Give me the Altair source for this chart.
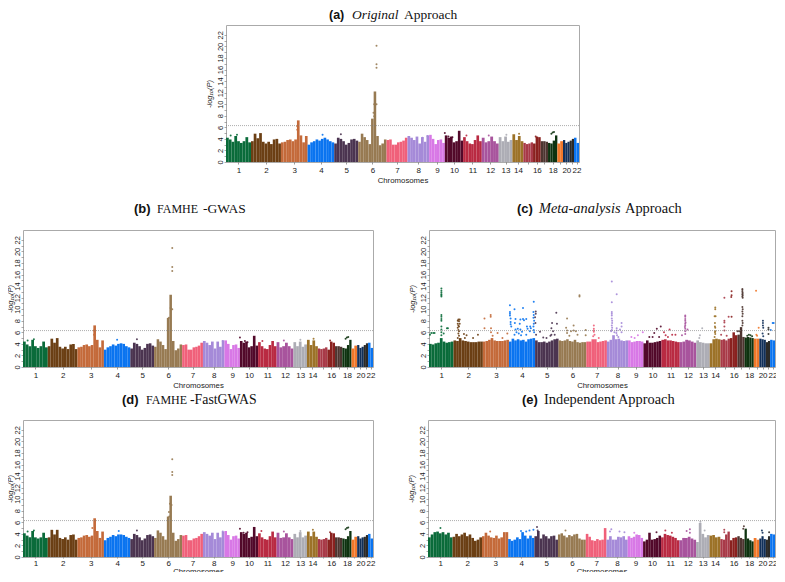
import altair as alt
import pandas as pd

chrom_sizes = [75,90,80,80,72,85,63,65,47,55,56,51,41,33,29,23,22,28,17,20,13,15]
chrom_colors = ["#0a6b3a","#6b3f14","#c46a3a","#0a74f0","#4b3450","#977a52","#f0607a","#a58ad8",
                "#d878e6","#52092a","#b92a42","#a8549d","#adadb5","#9c7228","#a83a48","#8a211f",
                "#4d3530","#0e3310","#f0782a","#12305a","#2b2a28","#0a74f0"]
threshold = 6.3

sky_a = [[4.2,3.9,3.5,4.5,3.6,3.3,3.6,4.3,3.4],[3.6,4.9,4.1,5.0,3.5,3.2,3.5,3.1,3.9,4.0,3.2],
 [3.4,3.5,3.8,3.9,3.6,3.9,7.2,4.6,3.4,4.5],[3.0,3.4,3.6,3.9,3.7,4.0,4.2,3.9,3.6,3.4],
 [3.2,4.2,4.0,3.6,3.0,3.3,3.9,4.0,3.7],[3.5,4.9,4.3,3.8,3.1,7.5,12.2,4.5,2.9,3.2,3.9],
 [3.8,3.9,3.0,3.0,3.4,3.5,3.7,4.2],[4.5,4.2,3.8,4.4,3.2,4.3,3.5,4.6],[4.7,4.0,3.1,3.8,3.9,3.3],
 [4.6,4.2,4.4,3.4,3.6,5.4,3.7],[4.3,3.6,3.2,3.1,3.8,4.6,3.6],[4.2,3.4,3.6,4.4,3.6,3.2],
 [4.3,3.6,4.4,3.5,3.8],[4.8,3.8,4.5,3.6],[3.3,3.1,3.2,3.4],[3.2,4.4,4.3],[3.6,3.6,3.5],
 [3.3,3.2,3.7,4.6],[3.2,3.6],[3.8,3.3,3.5],[3.7,4.0],[4.2,3.3]]
sky_b = [[4.4,3.9,3.6,4.7,3.6,3.3,3.6,4.4,3.4],[3.6,4.9,4.2,5.0,3.5,3.2,3.5,3.1,3.9,4.0,3.1],
 [3.4,3.5,3.8,3.9,3.6,3.8,7.2,4.7,3.4,4.6],[3.0,3.4,3.6,3.9,3.7,4.0,4.1,4.0,3.6,3.4],
 [3.2,4.2,4.0,3.6,3.0,3.3,4.0,4.1,3.7],[3.5,4.8,4.4,3.8,3.1,8.5,12.5,4.5,2.9,3.2,3.9],
 [3.8,3.9,3.0,3.0,3.4,3.5,3.7,4.2],[4.5,4.2,3.8,4.4,3.2,4.4,3.5,4.6],[4.6,4.0,3.1,3.8,3.9,3.3],
 [4.5,4.2,4.4,3.4,3.6,5.4,3.7],[4.3,3.6,3.2,3.1,3.8,4.5,3.6],[4.3,3.4,3.6,4.2,3.6,3.2],
 [4.3,3.6,4.4,3.5,3.9],[4.7,3.8,4.6,3.6],[3.2,3.1,3.2,3.4],[3.0,4.4,4.2],[3.6,3.6,3.5],
 [3.3,3.2,3.8,4.7],[3.2,3.7],[3.8,3.3,3.5],[3.8,4.1],[4.2,3.3]]
sky_c = [[4.0,3.9,4.1,4.2,5.0,4.4,4.2,4.3,4.4],[4.6,4.5,5.0,4.6,4.5,4.4,4.3,4.3,4.3,4.4,4.4],
 [4.4,4.5,4.7,5.0,4.6,4.5,4.5,4.5,4.6,4.7],[4.4,4.9,4.6,4.8,4.6,4.7,4.4,4.8,4.9,5.0],
 [4.6,4.3,4.3,4.4,4.2,4.4,4.6,4.8,4.9],[4.6,4.5,4.6,4.8,4.5,4.4,4.7,4.3,4.2,4.3,4.3],
 [4.4,4.4,4.8,4.8,4.3,4.4,4.5,4.6],[4.4,4.7,5.5,4.8,4.9,4.6,4.5,4.6],[4.6,4.3,4.4,4.5,4.5,4.4],
 [4.1,4.6,4.2,4.2,4.3,4.4,4.5],[4.7,4.8,4.6,4.6,4.5,4.4,4.3],[4.3,4.4,4.7,4.6,4.4,4.2],
 [4.6,4.3,4.2,4.1,4.1],[4.1,4.8,4.9,4.8],[4.7,4.8,4.6,4.9],[5.0,6.0,5.5],[5.6,6.9,5.2],
 [5.1,5.2,5.1,5.0],[4.9,4.9],[4.9,4.8,4.7],[4.3,4.5],[4.7,4.6]]
sky_d = [[4.1,3.7,3.4,4.5,3.4,3.2,3.4,4.2,3.3],[3.4,4.7,3.9,4.7,3.3,3.1,3.4,3.0,3.8,3.9,3.0],
 [3.3,3.4,3.7,3.8,3.5,3.7,6.7,4.5,3.3,4.4],[2.9,3.3,3.5,3.8,3.6,3.9,3.9,3.8,3.5,3.3],
 [3.1,4.0,3.8,3.4,2.9,3.2,3.8,3.9,3.6],[3.3,4.6,4.2,3.6,3.0,7.0,10.6,4.2,2.8,3.1,3.8],
 [3.7,3.8,2.9,2.9,3.2,3.3,3.6,4.0],[4.3,4.0,3.7,4.2,3.1,4.2,3.4,4.4],[4.5,3.8,3.0,3.6,3.7,3.2],
 [4.3,4.0,4.2,3.3,3.5,5.2,3.6],[4.1,3.4,3.1,3.0,3.6,4.4,3.4],[4.2,3.3,3.4,4.1,3.4,3.1],
 [4.0,3.4,4.3,3.4,3.7],[4.4,3.6,4.4,3.5],[3.1,3.0,3.1,3.3],[3.0,4.2,4.1],[3.4,3.4,3.3],
 [3.2,3.1,3.6,4.5],[3.0,3.5],[3.6,3.2,3.4],[3.5,3.8],[4.0,3.2]]
sky_e = [[3.4,3.9,4.3,4.4,4.1,4.3,3.9,4.2,3.4],[3.5,4.0,3.6,3.9,4.2,3.6,3.9,3.3,2.8,3.0,3.4],
 [3.6,4.2,3.7,3.4,3.3,3.7,3.2,3.4,4.3,4.3],[3.1,2.8,3.0,3.4,3.1,4.3,3.7,3.2,3.7,3.3],
 [3.6,4.5,3.2,3.9,3.6,3.2,3.6,3.7,3.0],[3.9,4.1,3.7,3.4,3.8,3.6,3.9,4.0,3.2,3.0,3.0],
 [4.0,3.5,2.9,2.8,3.1,2.9,3.0,5.0],[3.0,3.6,3.0,3.0,3.5,3.4,3.6,3.0],[3.6,3.3,3.5,3.9,3.8,3.3],
 [2.7,3.0,4.2,3.0,3.1,3.3,3.7],[3.4,4.0,3.8,3.7,3.5,3.3,2.9],[2.9,3.3,3.3,3.5,3.2,3.0],
 [2.6,5.9,4.0,3.4,3.8],[3.7,3.8,3.4,3.5],[3.1,3.0,3.9,4.4],[2.9,3.3,3.4],[3.6,3.3,3.1],
 [4.9,3.2,2.9,2.7],[3.3,3.0],[3.2,3.6,3.1],[3.0,3.6],[4.0,3.9]]

pts_a = [(452,20.1),(452,16.9),(452,16.3),(445,10.0),(452,10.0),(443,8.5),(445,7.9),(214,5.6),(214,6.2),
 (14,4.6),(33,4.7),(290,4.7),(345,4.8),(657,5.0),(668,4.4),(680,4.3),(722,4.6),(789,4.6),(842,4.7),(880,4.9),
 (985,5.2),(981,5.1),(977,4.9),(930,4.4),(605,4.5),(590,4.2)]
pts_b = [(452,20.6),(452,17.3),(452,16.6),(447,10.2),(452,10.0),(442,8.5),(215,5.6),(215,6.3),
 (14,4.6),(33,4.8),(285,4.7),(345,4.8),(657,5.1),(672,4.5),(680,4.3),(725,4.5),(790,4.6),(840,4.7),(880,4.9),
 (985,5.2),(981,5.1),(977,4.9),(930,4.6),(605,4.5)]
pts_c = [(38,13.6),(38,13.2),(38,12.9),(38,12.6),(38,12.4),(38,12.2),(38,9.0),(38,8.7),(38,8.3),(38,8.0),
 (38,7.0),(38,6.5),(38,6.0),(38,5.5),(3,5.6),(7,5.9),(13,5.9),(17,5.9),(55,6.7),(58,6.7),(45,5.8),
 (88,8.0),(90,8.2),(92,7.9),(94,8.2),(88,7.5),(90,7.2),(92,7.0),(94,7.5),(88,6.8),(90,6.4),(92,6.2),(90,5.8),(92,5.4),(88,5.0),
 (107,5.7),(115,5.5),(110,5.0),(150,5.6),(135,5.0),
 (170,8.4),(189,9.0),(189,8.7),(170,6.7),(190,6.7),(190,6.0),(210,5.9),(240,5.8),(195,5.4),(225,5.0),
 (248,10.7),(262,10.0),(288,10.2),(321,11.3),(248,9.5),(248,9.2),(248,8.9),(250,8.4),(250,7.8),(250,7.4),(252,7.0),
 (265,8.3),(263,7.6),(265,6.5),(268,6.0),(262,5.6),(272,6.6),(275,5.8),(280,8.2),(278,7.5),(280,6.5),(285,6.1),(282,5.5),
 (288,8.3),(291,8.1),(298,8.3),(300,7.0),(302,6.6),(298,5.6),(309,6.2),(310,7.0),(312,6.7),
 (320,9.5),(321,9.0),(320,8.5),(322,8.0),(321,7.5),(320,7.0),(321,6.4),(322,6.0),(327,9.6),(327,9.2),(325,8.6),(326,7.6),(328,5.6),
 (340,6.1),(375,5.6),(390,9.4),(377,7.6),(392,7.5),(375,6.7),(380,6.2),(372,5.4),(350,5.1),(360,5.0),(385,5.6),
 (423,8.4),(420,6.8),(423,6.3),(423,5.9),(443,7.2),(443,6.3),(435,6.2),(450,6.2),(461,12.2),(461,12.4),(480,6.4),(480,5.5),(430,5.4),(455,5.6),
 (505,7.2),(505,6.6),(505,6.3),(505,6.1),(507,5.6),(503,5.3),(520,5.0),
 (560,14.8),(575,12.6),(560,11.2),(560,9.5),(560,9.2),(560,8.9),(560,8.4),(561,8.0),(561,7.6),(560,7.2),(561,6.8),(560,6.4),(558,6.2),
 (590,7.6),(590,7.0),(575,6.7),(575,6.3),(574,5.9),(576,5.5),(585,6.5),(568,6.0),(590,6.0),(580,5.2),
 (655,6.0),(640,5.5),(620,5.2),(630,5.0),
 (698,6.6),(710,7.0),(675,5.2),(685,5.2),(690,5.9),(705,5.2),
 (720,6.0),(737,6.5),(725,5.5),(745,5.6),(755,5.6),(732,5.2),
 (785,8.9),(785,8.7),(785,8.3),(785,8.0),(786,7.7),(785,7.5),(785,7.2),(784,6.9),(785,6.6),(785,6.2),(785,5.7),(792,6.5),(775,5.5),
 (837,6.7),(830,5.5),(828,5.0),
 (877,10.3),(877,10.0),(875,8.8),(878,8.8),(876,7.6),(876,7.0),(877,6.8),(877,6.2),(876,6.0),(877,5.7),(875,5.2),(895,5.6),
 (905,12.0),(905,8.0),(905,7.7),(905,7.0),(905,6.3),(918,8.7),(912,5.4),
 (927,13.1),(927,12.4),(926,12.1),(927,8.7),(945,6.2),
 (960,13.5),(960,13.3),(960,13.0),(961,12.8),(960,12.6),(961,12.4),(960,12.2),(961,12.0),(960,10.4),(961,10.0),(960,9.6),(961,9.2),(960,8.8),(960,8.0),(961,7.6),(960,7.2),(955,6.2),(950,6.2),
 (980,5.6),(985,5.5),(975,5.4),(990,5.3),
 (1002,13.2),(1010,6.8),(1003,5.6),(1005,5.4),
 (1023,8.0),(1023,7.6),(1023,7.2),(1024,6.8),(1022,5.8),(1024,5.3),
 (1040,6.8),(1040,6.5),(1040,5.7),(1053,7.6),(1056,7.6),(1047,6.4)]
pts_d = [(452,16.9),(452,14.7),(452,14.2),(445,9.2),(450,9.0),(442,7.8),(443,7.0),(210,5.0),
 (14,4.4),(33,4.6),(290,4.5),(345,4.6),(657,4.9),(668,4.2),(680,4.3),(722,4.5),(790,4.4),(840,4.5),(878,4.7),
 (985,5.1),(981,5.0),(977,4.8),(930,4.3),(605,4.4)]
pts_e = [(38,5.0),(333,5.2),(335,4.6),(284,4.5),(190,4.4),(420,4.6),(560,4.8),(556,4.4),(585,4.4),(600,4.3),
 (630,4.2),(698,4.3),(725,4.6),(745,4.2),(790,4.5),(800,4.8),(800,4.2),(832,6.1),(845,4.6),(905,4.7),(905,4.3),
 (965,5.3),(963,4.9),(1020,4.6),(1022,4.2),(1042,4.3),(300,4.4),(310,4.6),(322,4.7)]

y_ticks = list(range(0, 23))
chrom_labels = ["1","2","3","4","5","6","7","8","9","10","11","12","13","14","","16","","18","","20","","22"]

starts, s = [], 0
for v in chrom_sizes:
    starts.append(s)
    s += v
centers = [st + v / 2 for st, v in zip(starts, chrom_sizes)]
names = [f"c{i+1}" for i in range(22)]

def chrom_of(u):
    for i in range(21, -1, -1):
        if u >= starts[i]:
            return names[i]

color = alt.Color("chr:N", scale=alt.Scale(domain=names, range=chrom_colors), legend=None)
xscale = alt.Scale(domain=[0, sum(chrom_sizes)], nice=False, zero=False)
yscale = alt.Scale(domain=[0, 23.7], nice=False)
label_expr = "[" + ",".join(f"'{l}'" for l in chrom_labels) + "][indexof([" + ",".join(str(c) for c in centers) + "],datum.value)]"
one = pd.DataFrame({"a": [0]})

def make_x_axis(title_pad, tick, label_pad):
    return alt.Axis(
        values=centers, labelExpr=label_expr, labelOverlap=False, title="Chromosomes", grid=False,
        domain=False, tickSize=tick, tickWidth=0.6, tickColor="#555", labelFontSize=8, labelPadding=label_pad,
        labelColor="#222", titleFontSize=7.8, titleFontWeight="normal", titleColor="#222", titlePadding=title_pad,
        labelFont="Liberation Sans", titleFont="Liberation Sans", labelFlush=False)

def make_y_axis(title_pad):
    return alt.Axis(
        values=y_ticks, labelExpr="datum.value % 2 == 0 ? datum.label : ''", labelOverlap=False,
        title="-log₁₀(P)", grid=False, domain=False, tickSize=2, tickWidth=0.5, tickColor="#555",
        labelAngle=270, labelAlign="center", labelBaseline="bottom", labelFontSize=7.5, labelPadding=0,
        labelColor="#222", titleFontSize=7.5, titleFontWeight="normal", titleFontStyle="italic",
        titleColor="#222", titlePadding=title_pad, labelFont="Liberation Sans", titleFont="Liberation Sans")

def panel(sky, pts, pieces, title_pad=3, x_pad=2, tick=2, label_pad=2, w=353):
    y_axis = make_y_axis(title_pad)
    x_axis = make_x_axis(x_pad, tick, label_pad)
    rows = []
    for i, vals in enumerate(sky):
        step = chrom_sizes[i] / len(vals)
        for j, v in enumerate(vals):
            rows.append({"x": starts[i] + j * step, "x2": starts[i] + (j + 1) * step, "y": v, "y0": 0, "chr": names[i]})
    bars = alt.Chart(pd.DataFrame(rows)).mark_rect(strokeWidth=0).encode(
        x=alt.X("x:Q", scale=xscale, axis=x_axis),
        x2="x2:Q",
        y=alt.Y("y:Q", scale=yscale, axis=y_axis),
        y2="y0:Q",
        color=color)
    pdf = pd.DataFrame({"x": [p[0] for p in pts], "y": [p[1] for p in pts], "chr": [chrom_of(p[0]) for p in pts]})
    dots = alt.Chart(pdf).mark_circle(size=4, opacity=0.9).encode(
        x=alt.X("x:Q", scale=xscale, axis=x_axis), y=alt.Y("y:Q", scale=yscale, axis=y_axis), color=color)
    rule = alt.Chart(one).mark_rule(color="#777", strokeDash=[1, 1], strokeWidth=0.6).encode(
        y=alt.Y(datum=threshold, axis=y_axis))
    layers = [bars, dots, rule]
    for text, px, py, font, size, weight, style in pieces:
        layers.append(alt.Chart(one).mark_text(text=text, align="left", baseline="alphabetic", font=font,
                      fontSize=size, fontWeight=weight, fontStyle=style, color="#111").encode(
                      x=alt.value(px), y=alt.value(py)))
    return alt.layer(*layers).properties(width=w, height=137)

SANS, SERIF = "Liberation Sans", "Liberation Serif"
a = panel(sky_a, pts_a, [("(a)", 103, -6, SANS, 12.5, "bold", "normal"),
                         ("Original", 126, -6, SERIF, 13.5, "normal", "italic"),
                         ("Approach", 178, -6, SERIF, 13.5, "normal", "normal")])
b = panel(sky_b, pts_b, [("(b)", 111, -17, SANS, 13, "bold", "normal"),
                         ("FAMHE", 134, -17, SERIF, 12, "normal", "normal"),
                         ("-GWAS", 180, -17, SERIF, 13.5, "normal", "normal")], title_pad=-1, w=350)
c = panel(sky_c, pts_c, [("(c)", 88, -17, SANS, 13, "bold", "normal"),
                         ("Meta-analysis", 110, -17, SERIF, 14.4, "normal", "italic"),
                         ("Approach", 196, -17, SERIF, 14.4, "normal", "normal")], w=346)
d = panel(sky_d, pts_d, [("(d)", 99, -16, SANS, 13, "bold", "normal"),
                         ("FAMHE", 123, -16, SERIF, 12, "normal", "normal"),
                         ("-FastGWAS", 167, -16, SERIF, 13.8, "normal", "normal")],
          title_pad=-1, x_pad=0, tick=1, label_pad=1, w=350)
e = panel(sky_e, pts_e, [("(e)", 94, -16, SANS, 13, "bold", "normal"),
                         ("Independent Approach", 116, -16, SERIF, 14.4, "normal", "normal")],
          x_pad=0, tick=1, label_pad=1, w=347)

spacer = alt.Chart(one).mark_text(text="").encode(x=alt.value(0), y=alt.value(0)).properties(
    width=1, height=137, view=alt.ViewConfig(stroke="transparent"))

row1 = alt.hconcat(spacer, a, spacing=202, bounds="flush")
row2 = alt.hconcat(b, c, spacing=56, bounds="flush")
row3 = alt.hconcat(d, e, spacing=55, bounds="flush")
lower = alt.vconcat(row2, row3, spacing=1)
chart = alt.vconcat(row1, lower, spacing=15).properties(
    padding={"left": -3, "top": -1, "right": -2.5, "bottom": -4}, background="white"
    ).configure_view(stroke="#aaaaaa", strokeWidth=1).configure_axis(labelOverlap=False)

chart.save("out.html", embed_options={"renderer": "svg", "actions": False})
